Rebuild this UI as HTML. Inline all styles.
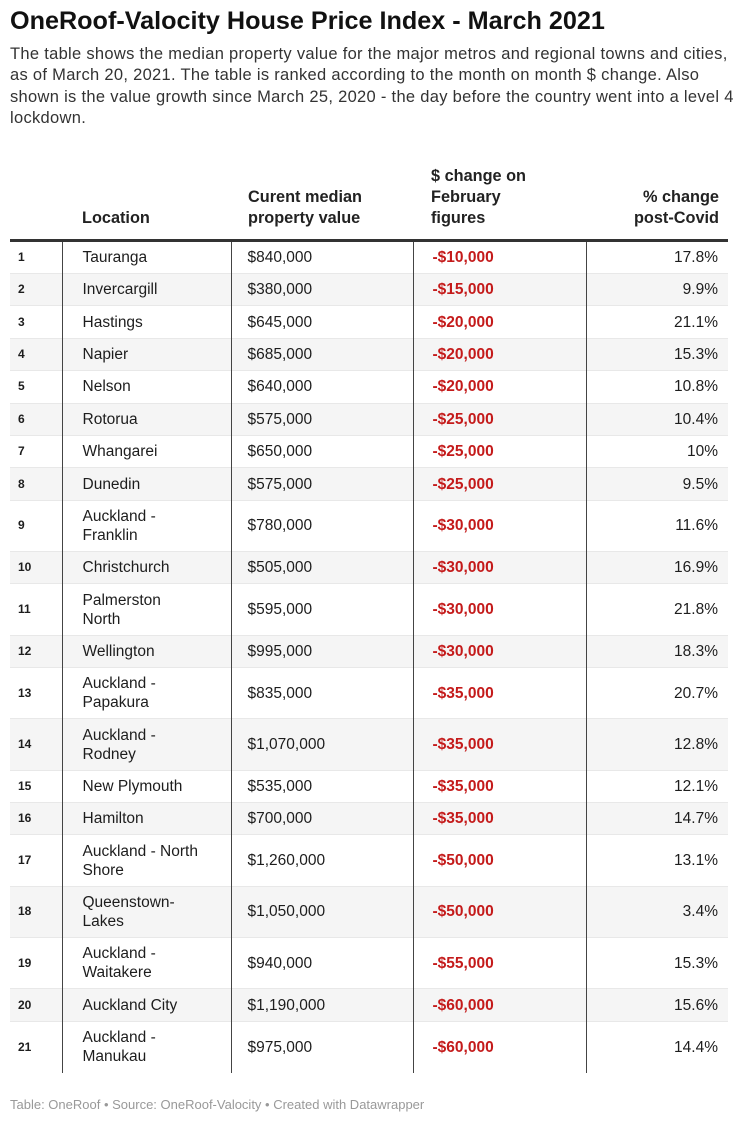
<!DOCTYPE html>
<html><head><style>
body{margin:0;width:740px;height:1125px;background:#fff;font-family:"Liberation Sans",sans-serif;color:#1d1d1d;position:relative;overflow:hidden}
h1{position:absolute;left:10px;top:7px;margin:0;font-size:25.2px;font-weight:bold;letter-spacing:0px;color:#111;white-space:nowrap}
.desc{position:absolute;left:10px;top:44px;width:735px;font-size:16.5px;line-height:21.4px;color:#333;letter-spacing:0.3px;white-space:nowrap}
.hd{position:absolute;font-weight:bold;font-size:16.3px;line-height:21px;color:#222}
table{position:absolute;left:10px;top:239px;width:718px;border-collapse:collapse;font-size:15.5px}
tr.t1{border-top:3px solid #333}
td{padding:0;vertical-align:middle;line-height:19px}
td.n{width:52px;font-weight:bold;font-size:12px;padding-left:8px;box-sizing:border-box}
td.l{width:169px;padding-left:20px;box-sizing:border-box;border-left:1.5px solid #444}
td.v{width:182px;padding-left:16px;box-sizing:border-box;border-left:1.5px solid #444}
td.c{width:173px;padding-left:19px;box-sizing:border-box;border-left:1.5px solid #444;color:#c41a1a;font-weight:bold}
td.p{text-align:right;padding-right:10px;border-left:1.5px solid #444}
tr:nth-child(even) td{background:#f5f5f5}
tr{border-bottom:1px solid #e8e8e8}
.foot{position:absolute;left:10px;top:1097px;font-size:13px;color:#999}
</style></head><body>
<h1>OneRoof-Valocity House Price Index - March 2021</h1>
<div class="desc">The table shows the median property value for the major metros and regional towns and cities,<br>as of March 20, 2021. The table is ranked according to the month on month $ change. Also<br>shown is the value growth since March 25, 2020 - the day before the country went into a level 4<br>lockdown.</div>
<div class="hd" style="left:82px;top:208px">Location</div>
<div class="hd" style="left:248px;top:187px">Curent median<br>property value</div>
<div class="hd" style="left:431px;top:166px">$ change on<br>February<br>figures</div>
<div class="hd" style="right:21px;top:187px;text-align:right">% change<br>post-Covid</div>
<table>
<tbody>
<tr class="t1" style="height:33px"><td class="n">1</td><td class="l">Tauranga</td><td class="v">$840,000</td><td class="c">-$10,000</td><td class="p">17.8%</td></tr>
<tr style="height:32.4px"><td class="n">2</td><td class="l">Invercargill</td><td class="v">$380,000</td><td class="c">-$15,000</td><td class="p">9.9%</td></tr>
<tr style="height:32.4px"><td class="n">3</td><td class="l">Hastings</td><td class="v">$645,000</td><td class="c">-$20,000</td><td class="p">21.1%</td></tr>
<tr style="height:32.4px"><td class="n">4</td><td class="l">Napier</td><td class="v">$685,000</td><td class="c">-$20,000</td><td class="p">15.3%</td></tr>
<tr style="height:32.4px"><td class="n">5</td><td class="l">Nelson</td><td class="v">$640,000</td><td class="c">-$20,000</td><td class="p">10.8%</td></tr>
<tr style="height:32.4px"><td class="n">6</td><td class="l">Rotorua</td><td class="v">$575,000</td><td class="c">-$25,000</td><td class="p">10.4%</td></tr>
<tr style="height:32.4px"><td class="n">7</td><td class="l">Whangarei</td><td class="v">$650,000</td><td class="c">-$25,000</td><td class="p">10%</td></tr>
<tr style="height:32.4px"><td class="n">8</td><td class="l">Dunedin</td><td class="v">$575,000</td><td class="c">-$25,000</td><td class="p">9.5%</td></tr>
<tr style="height:51.3px"><td class="n">9</td><td class="l">Auckland -<br>Franklin</td><td class="v">$780,000</td><td class="c">-$30,000</td><td class="p">11.6%</td></tr>
<tr style="height:32.4px"><td class="n">10</td><td class="l">Christchurch</td><td class="v">$505,000</td><td class="c">-$30,000</td><td class="p">16.9%</td></tr>
<tr style="height:51.3px"><td class="n">11</td><td class="l">Palmerston<br>North</td><td class="v">$595,000</td><td class="c">-$30,000</td><td class="p">21.8%</td></tr>
<tr style="height:32.4px"><td class="n">12</td><td class="l">Wellington</td><td class="v">$995,000</td><td class="c">-$30,000</td><td class="p">18.3%</td></tr>
<tr style="height:51.3px"><td class="n">13</td><td class="l">Auckland -<br>Papakura</td><td class="v">$835,000</td><td class="c">-$35,000</td><td class="p">20.7%</td></tr>
<tr style="height:51.3px"><td class="n">14</td><td class="l">Auckland -<br>Rodney</td><td class="v">$1,070,000</td><td class="c">-$35,000</td><td class="p">12.8%</td></tr>
<tr style="height:32.4px"><td class="n">15</td><td class="l">New Plymouth</td><td class="v">$535,000</td><td class="c">-$35,000</td><td class="p">12.1%</td></tr>
<tr style="height:32.4px"><td class="n">16</td><td class="l">Hamilton</td><td class="v">$700,000</td><td class="c">-$35,000</td><td class="p">14.7%</td></tr>
<tr style="height:51.3px"><td class="n">17</td><td class="l">Auckland - North<br>Shore</td><td class="v">$1,260,000</td><td class="c">-$50,000</td><td class="p">13.1%</td></tr>
<tr style="height:51.3px"><td class="n">18</td><td class="l">Queenstown-<br>Lakes</td><td class="v">$1,050,000</td><td class="c">-$50,000</td><td class="p">3.4%</td></tr>
<tr style="height:51.3px"><td class="n">19</td><td class="l">Auckland -<br>Waitakere</td><td class="v">$940,000</td><td class="c">-$55,000</td><td class="p">15.3%</td></tr>
<tr style="height:32.4px"><td class="n">20</td><td class="l">Auckland City</td><td class="v">$1,190,000</td><td class="c">-$60,000</td><td class="p">15.6%</td></tr>
<tr style="height:51.3px;border-bottom:none"><td class="n">21</td><td class="l">Auckland -<br>Manukau</td><td class="v">$975,000</td><td class="c">-$60,000</td><td class="p">14.4%</td></tr>
</tbody></table>
<div class="foot">Table: OneRoof • Source: OneRoof-Valocity • Created with Datawrapper</div>
</body></html>
